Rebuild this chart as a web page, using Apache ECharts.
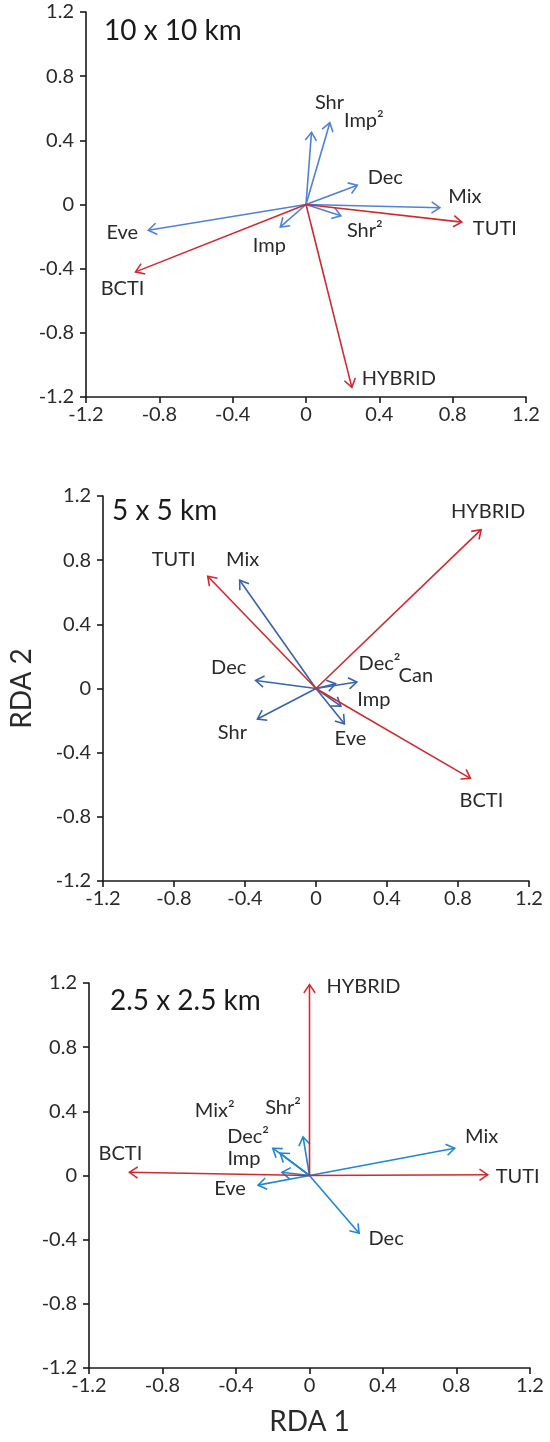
<!DOCTYPE html>
<html>
<head>
<meta charset="utf-8">
<script src="https://cdn.jsdelivr.net/npm/echarts@6/dist/echarts.min.js"></script>
<style>html,body{margin:0;padding:0;background:#fff}#c{width:550px;height:1442px}</style>
</head>
<body>
<div id="c"></div>
<script>
// ---------- DATA ----------
const axisTicks = [-1.2, -0.8, -0.4, 0, 0.4, 0.8, 1.2];
const panelTitles = ['10 x 10 km', '5 x 5 km', '2.5 x 2.5 km'];

// Panel 1: 10 x 10 km
const p1Names = ['Shr', 'Imp²', 'Dec', 'Mix', 'Shr²', 'Eve', 'Imp', 'TUTI', 'BCTI', 'HYBRID'];
const p1X     = [0.03, 0.13, 0.28, 0.73, 0.19, -0.86, -0.14, 0.85, -0.93, 0.25];
const p1Y     = [0.45, 0.51, 0.12, -0.02, -0.07, -0.16, -0.14, -0.11, -0.42, -1.14];
const p1Group = ['pred', 'pred', 'pred', 'pred', 'pred', 'pred', 'pred', 'resp', 'resp', 'resp'];

// Panel 2: 5 x 5 km
const p2Names = ['Mix', 'Dec', 'Dec²', 'Can', 'Imp', 'Eve', 'Shr', 'TUTI', 'HYBRID', 'BCTI'];
const p2X     = [-0.43, -0.34, 0.11, 0.23, 0.14, 0.16, -0.33, -0.61, 0.93, 0.87];
const p2Y     = [0.675, 0.05, 0.03, 0.04, -0.11, -0.22, -0.19, 0.70, 0.99, -0.56];
const p2Group = ['pred', 'pred', 'pred', 'pred', 'pred', 'pred', 'pred', 'resp', 'resp', 'resp'];

// Panel 3: 2.5 x 2.5 km
const p3Names = ['Mix', 'Dec', 'Eve', 'Shr²', 'Mix²', 'Dec²', 'Imp', 'HYBRID', 'TUTI', 'BCTI'];
const p3X     = [0.79, 0.27, -0.28, -0.035, -0.20, -0.16, -0.15, 0.0, 0.97, -0.98];
const p3Y     = [0.17, -0.36, -0.06, 0.24, 0.17, 0.14, 0.02, 1.19, 0.005, 0.02];
const p3Group = ['pred', 'pred', 'pred', 'pred', 'pred', 'pred', 'pred', 'resp', 'resp', 'resp'];

// ---------- LAYOUT / STYLE ----------
const FONT = 'Lato, "Noto Sans", sans-serif';
const RED = '#d02a2e';
const BLUES = ['#4f82d6', '#3a63ad', '#1e88d2'];
// label offsets (pixels from arrow tip), per panel, same order as names
const labelOffsets = [
  [[18,-30],[34,-2],[28,-8],[25,-11],[24,15],[-26,2],[-11,19],[33,6],[-13,17],[47,-9]],
  [[3,-21],[-27,-13],[44,-20],[59,-7],[33,-7],[6,15],[-25,14],[-34,-17],[7,-18],[11,22]],
  [[27,-12],[27,5],[-28,3],[-20,-29],[-58,-38],[-32,-16],[-38,-14],[54,2],[30,2],[-9,-19]]
];
const grids = [
  {left: 86, top: 12, width: 440, height: 385},
  {left: 87, top: 496, width: 442, height: 385},
  {left: 89, top: 983, width: 441, height: 385}
];
const titlePos = [[104, 17], [112, 497], [110, 987]];

const panels = [
  {names: p1Names, xs: p1X, ys: p1Y, groups: p1Group},
  {names: p2Names, xs: p2X, ys: p2Y, groups: p2Group},
  {names: p3Names, xs: p3X, ys: p3Y, groups: p3Group}
];

function fmt(v) { return String(Math.round(v * 10) / 10); }

function axisCommon() {
  return {
    type: 'value', min: axisTicks[0], max: axisTicks[axisTicks.length - 1], interval: 0.4,
    axisLine: {show: true, onZero: false, lineStyle: {color: '#1a1a1a', width: 1.6}},
    axisTick: {show: true, inside: false, length: 6, lineStyle: {color: '#1a1a1a', width: 1.6}},
    splitLine: {show: false},
    axisLabel: {formatter: fmt, color: '#2a2a2a', fontSize: 20, fontFamily: FONT}
  };
}

const xAxes = [], yAxes = [], series = [], titles = [];
panels.forEach((p, i) => {
  const xa = axisCommon();
  xa.gridIndex = i; xa.position = 'bottom';
  xa.axisLabel = Object.assign({}, xa.axisLabel, {margin: 8});
  const ya = axisCommon();
  ya.gridIndex = i; ya.position = 'left';
  ya.axisLabel = Object.assign({}, ya.axisLabel, {margin: 12});
  if (i === 1) {
    Object.assign(ya, {name: 'RDA 2', nameLocation: 'middle', nameGap: 67, nameRotate: 90,
      nameTextStyle: {fontSize: 28, fontFamily: FONT, color: '#2a2a2a'}});
  }
  if (i === 2) {
    Object.assign(xa, {name: 'RDA 1', nameLocation: 'middle', nameGap: 40,
      nameTextStyle: {fontSize: 28, fontFamily: FONT, color: '#2a2a2a'}});
  }
  xAxes.push(xa); yAxes.push(ya);

  titles.push({text: panelTitles[i], left: titlePos[i][0], top: titlePos[i][1], padding: 0,
    textStyle: {fontSize: 28, fontWeight: 'normal', fontFamily: FONT, color: '#1a1a1a'}});

  const data = p.names.map((n, k) => [p.xs[k], p.ys[k], k]);
  const blue = BLUES[i];
  series.push({
    type: 'custom', xAxisIndex: i, yAxisIndex: i, data: data, clip: false,
    renderItem: function (params, api) {
      const k = api.value(2);
      const a = api.coord([0, 0]);
      const b = api.coord([api.value(0), api.value(1)]);
      const col = p.groups[k] === 'resp' ? RED : blue;
      const ang = Math.atan2(b[1] - a[1], b[0] - a[0]);
      const L = 10, spread = 0.6;
      const h1 = [b[0] - L * Math.cos(ang - spread), b[1] - L * Math.sin(ang - spread)];
      const h2 = [b[0] - L * Math.cos(ang + spread), b[1] - L * Math.sin(ang + spread)];
      const off = labelOffsets[i][k];
      return {
        type: 'group',
        children: [
          {type: 'line', shape: {x1: a[0], y1: a[1], x2: b[0], y2: b[1]},
            style: {stroke: col, lineWidth: 1.6}},
          {type: 'polyline', shape: {points: [h1, b, h2]},
            style: {stroke: col, lineWidth: 1.6, fill: null}},
          {type: 'text', x: b[0] + off[0], y: b[1] + off[1],
            style: {text: p.names[k], fill: '#2a2a2a', fontSize: 20, fontFamily: FONT,
              align: 'center', verticalAlign: 'middle'}}
        ]
      };
    }
  });
});

const chart = echarts.init(document.getElementById('c'), null, {renderer: 'canvas'});
chart.setOption({
  animation: false,
  backgroundColor: '#ffffff',
  title: titles,
  grid: grids,
  xAxis: xAxes,
  yAxis: yAxes,
  series: series
});
</script>
</body>
</html>
